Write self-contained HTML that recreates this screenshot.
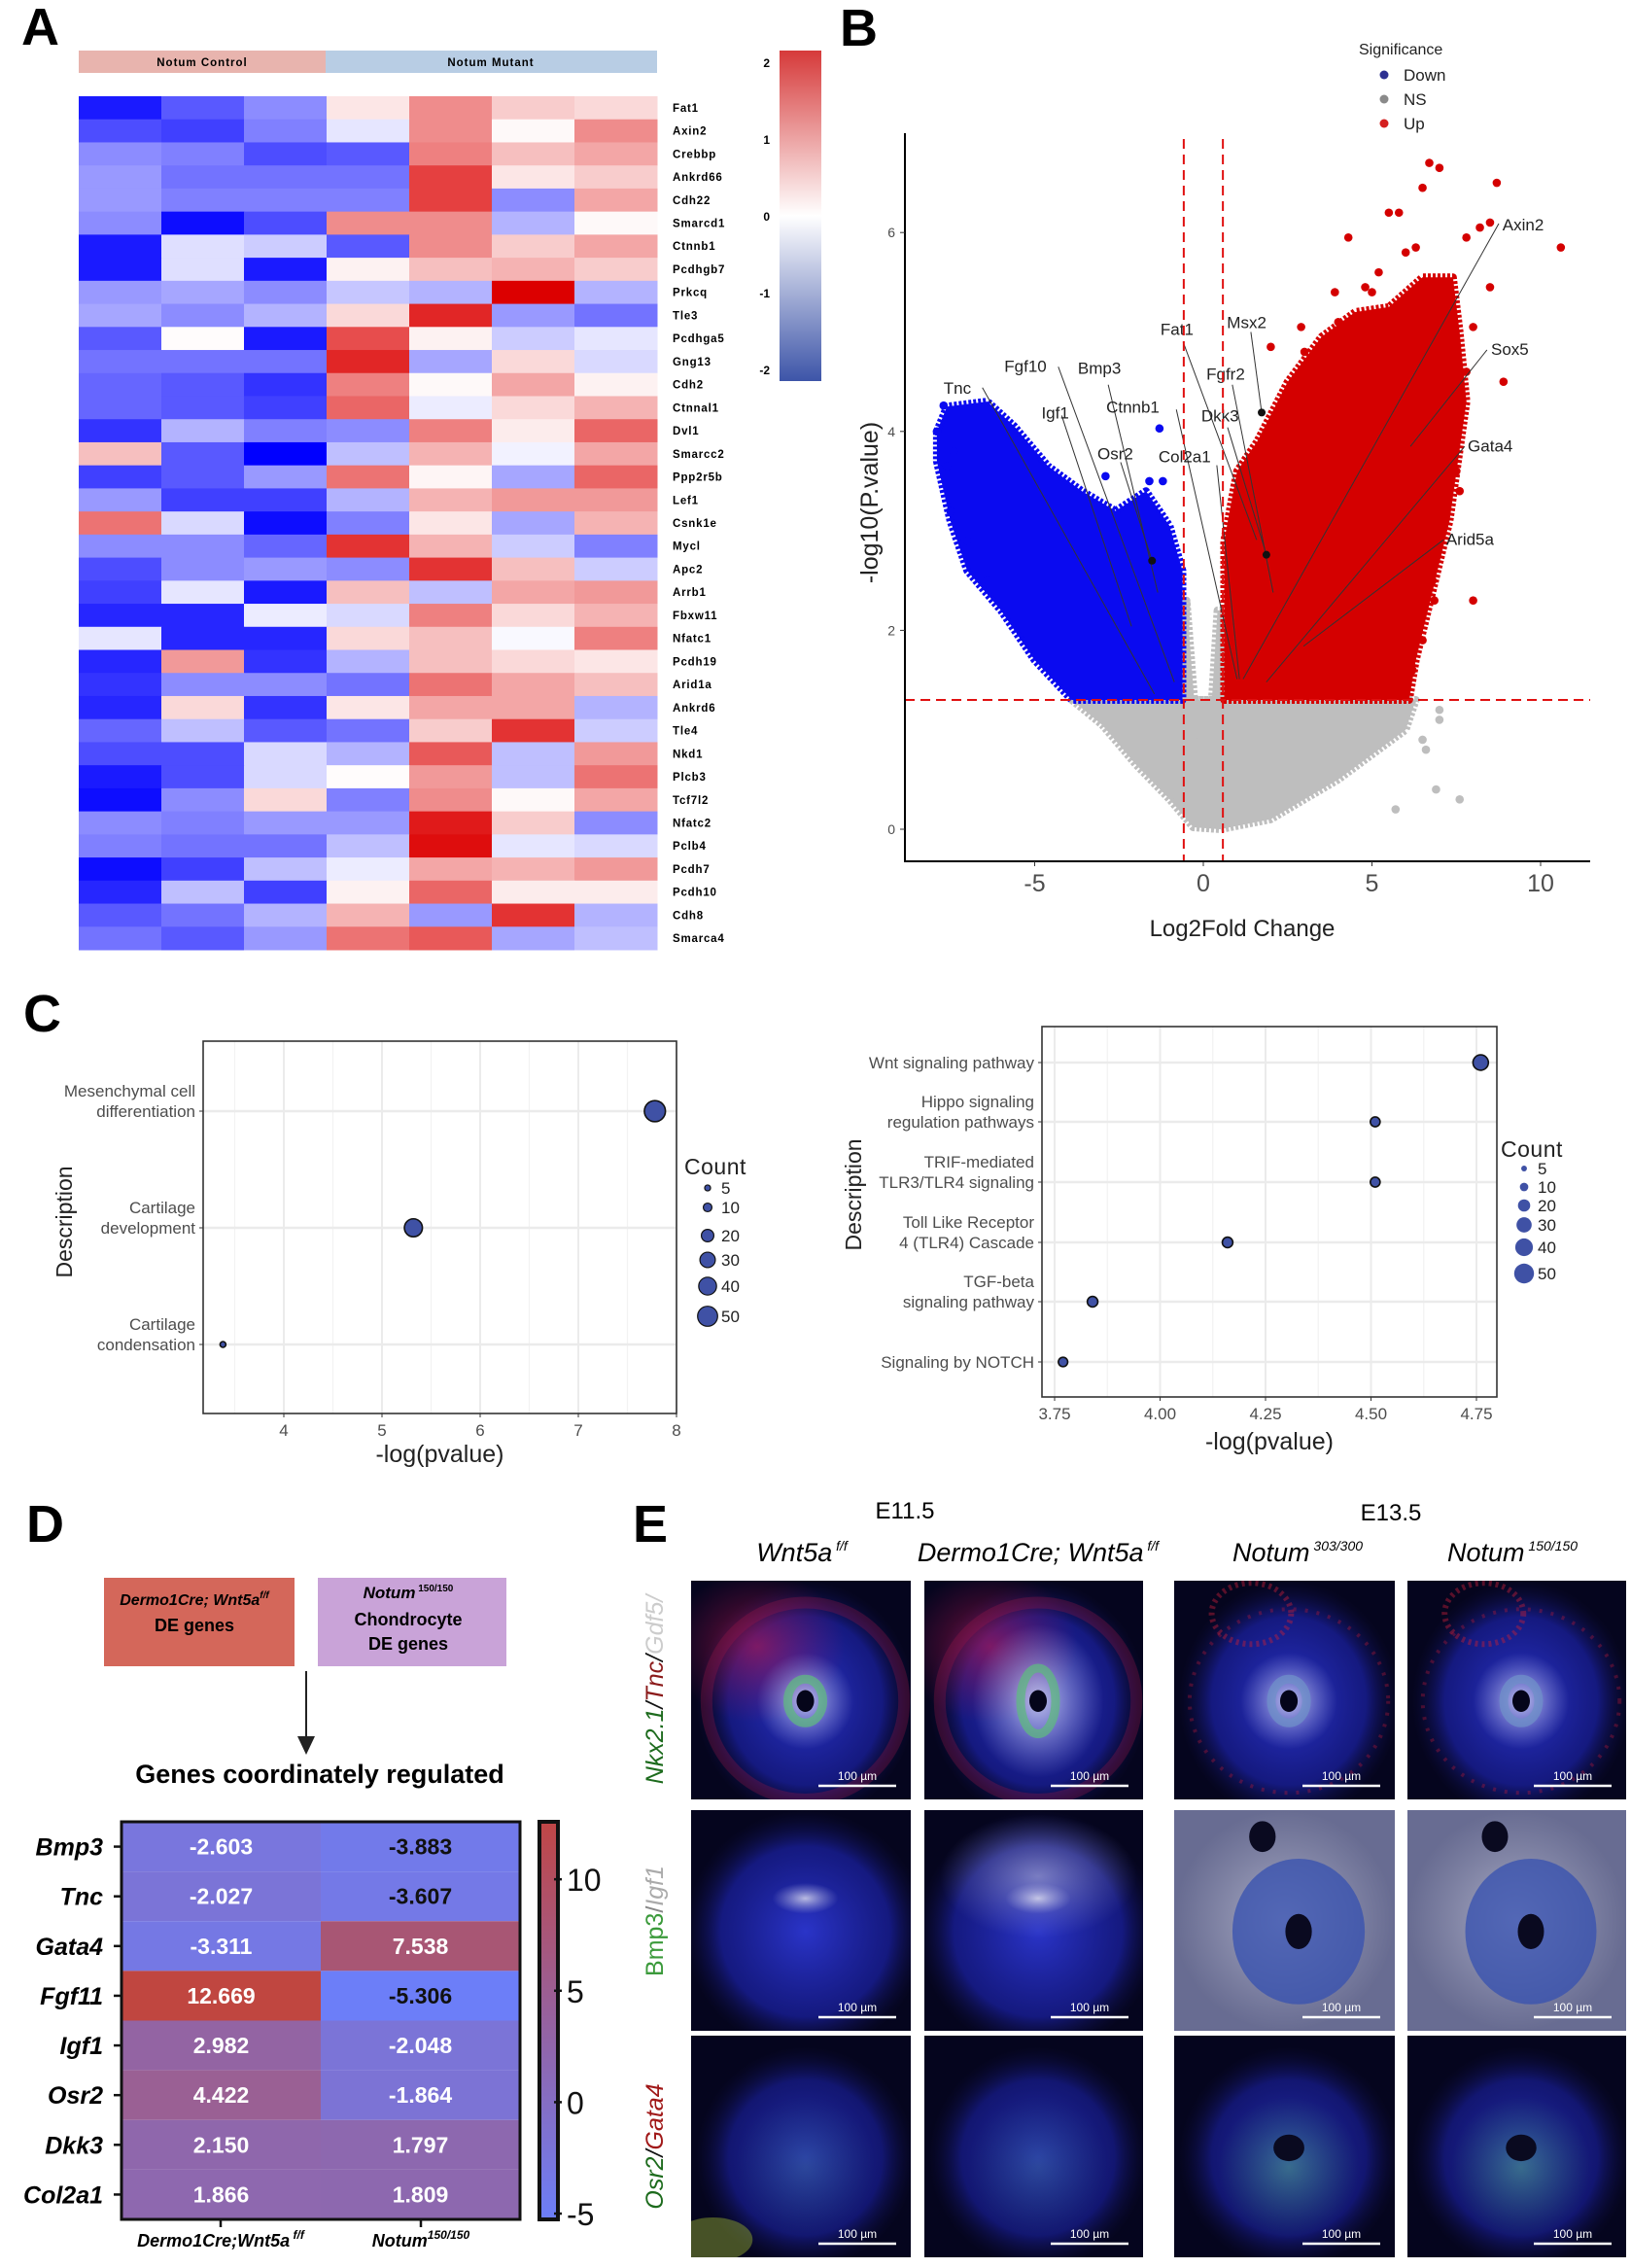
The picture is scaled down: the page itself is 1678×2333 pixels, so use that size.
<!DOCTYPE html>
<html><head><meta charset="utf-8"><style>
html,body{margin:0;padding:0;background:#fff;}
svg{display:block;}
text{font-family:"Liberation Sans",sans-serif;}
</style></head><body>
<svg id="fig" xmlns="http://www.w3.org/2000/svg" width="1678" height="2333" viewBox="0 0 1678 2333">
<defs>
<linearGradient id="cbA" x1="0" y1="0" x2="0" y2="1"><stop offset="0" stop-color="#d63a3a"/><stop offset="0.5" stop-color="#ffffff"/><stop offset="1" stop-color="#3d55a8"/></linearGradient>
<linearGradient id="cbD" x1="0" y1="0" x2="0" y2="1"><stop offset="0" stop-color="#c04646"/><stop offset="1" stop-color="#6c7ef8"/></linearGradient>
<radialGradient id="gBlue"><stop offset="0" stop-color="#2a34c8" stop-opacity="1"/><stop offset="0.7" stop-color="#1a20a0" stop-opacity="0.75"/><stop offset="1" stop-color="#10104a" stop-opacity="0"/></radialGradient>
<radialGradient id="gRed"><stop offset="0" stop-color="#c01850" stop-opacity="0.6"/><stop offset="1" stop-color="#a01050" stop-opacity="0"/></radialGradient>
<radialGradient id="gWhite"><stop offset="0" stop-color="#e0e0f0" stop-opacity="0.8"/><stop offset="1" stop-color="#b0b0e0" stop-opacity="0"/></radialGradient>
<radialGradient id="gGreen"><stop offset="0" stop-color="#60e060" stop-opacity="0.45"/><stop offset="1" stop-color="#40c040" stop-opacity="0"/></radialGradient>
<radialGradient id="gGrey"><stop offset="0" stop-color="#b8bad0" stop-opacity="0.9"/><stop offset="1" stop-color="#7a7ea0" stop-opacity="0.7"/></radialGradient>
</defs>

<text x="22" y="46" font-size="54" font-weight="bold">A</text>
<text x="864" y="47" font-size="54" font-weight="bold">B</text>
<text x="24" y="1061" font-size="54" font-weight="bold">C</text>
<text x="27" y="1586" font-size="54" font-weight="bold">D</text>
<text x="651" y="1586" font-size="54" font-weight="bold">E</text>

<g>
<rect x="81" y="52" width="254" height="23" fill="#e8b4ae"/>
<rect x="335" y="52" width="341" height="23" fill="#b8cde4"/>
<text x="208" y="68" font-size="11.5" font-weight="bold" text-anchor="middle" letter-spacing="1">Notum Control</text>
<text x="505" y="68" font-size="11.5" font-weight="bold" text-anchor="middle" letter-spacing="1">Notum Mutant</text>
<g id="heatA"></g>
<rect x="802" y="52" width="43" height="340" fill="url(#cbA)"/>
<g id="cbAticks" font-size="12" font-weight="bold"></g>
</g>

<g id="volcano"></g>

<g id="dotLeft"></g>
<g id="dotRight"></g>

<g>
<rect x="107" y="1623" width="196" height="91" fill="#d4675a"/>
<rect x="327" y="1623" width="194" height="91" fill="#c9a3d8"/>
<text x="200" y="1651" font-size="16" font-weight="bold" font-style="italic" text-anchor="middle">Dermo1Cre; Wnt5a<tspan font-size="10" dy="-7">f/f</tspan></text>
<text x="200" y="1678" font-size="18" font-weight="bold" text-anchor="middle">DE genes</text>
<text x="420" y="1644" font-size="17" font-weight="bold" text-anchor="middle"><tspan font-style="italic">Notum</tspan><tspan font-size="10" dy="-7"> 150/150</tspan></text>
<text x="420" y="1672" font-size="18" font-weight="bold" text-anchor="middle">Chondrocyte</text>
<text x="420" y="1697" font-size="18" font-weight="bold" text-anchor="middle">DE genes</text>
<line x1="315" y1="1719" x2="315" y2="1795" stroke="#222" stroke-width="2"/>
<polygon points="306,1786 324,1786 315,1805" fill="#222"/>
<text x="329" y="1834" font-size="27" font-weight="bold" text-anchor="middle">Genes coordinately regulated</text>
<g id="heatD"></g>
</g>

<g>
<text x="931" y="1562" font-size="24" text-anchor="middle">E11.5</text>
<text x="1431" y="1564" font-size="24" text-anchor="middle">E13.5</text>
<text x="825" y="1606" font-size="27" font-style="italic" text-anchor="middle">Wnt5a<tspan font-size="14" dy="-11"> f/f</tspan></text>
<text x="1068" y="1606" font-size="27" font-style="italic" text-anchor="middle">Dermo1Cre; Wnt5a<tspan font-size="14" dy="-11"> f/f</tspan></text>
<text x="1335" y="1606" font-size="27" font-style="italic" text-anchor="middle">Notum<tspan font-size="14" dy="-11"> 303/300</tspan></text>
<text x="1556" y="1606" font-size="27" font-style="italic" text-anchor="middle">Notum<tspan font-size="14" dy="-11"> 150/150</tspan></text>
<text transform="translate(682,1738) rotate(-90)" font-size="25" font-style="italic" text-anchor="middle"><tspan fill="#1d6b1d">Nkx2.1</tspan><tspan fill="#111">/</tspan><tspan fill="#8b1a1a">Tnc</tspan><tspan fill="#111">/</tspan><tspan fill="#ccc">Gdf5</tspan><tspan fill="#ccc">/</tspan></text>
<text transform="translate(682,1976) rotate(-90)" font-size="25" text-anchor="middle"><tspan fill="#3b9a3b">Bmp3</tspan><tspan fill="#888">/</tspan><tspan fill="#aaa" font-style="italic">Igf1</tspan></text>
<text transform="translate(682,2208) rotate(-90)" font-size="25" font-style="italic" text-anchor="middle"><tspan fill="#1d6b1d">Osr2</tspan><tspan fill="#111">/</tspan><tspan fill="#a01818">Gata4</tspan></text>
<g id="micro"></g>
</g>
</svg>

<script>
const NS = 'http://www.w3.org/2000/svg';
function mk(tag, attrs, parent){ const e=document.createElementNS(NS,tag); for(const k in attrs) e.setAttribute(k,attrs[k]); parent.appendChild(e); return e; }

/* ================= Panel A heatmap ================= */
const geneNames = ['Fat1','Axin2','Crebbp','Ankrd66','Cdh22','Smarcd1','Ctnnb1','Pcdhgb7','Prkcq','Tle3','Pcdhga5','Gng13','Cdh2','Ctnnal1','Dvl1','Smarcc2','Ppp2r5b','Lef1','Csnk1e','Mycl','Apc2','Arrb1','Fbxw11','Nfatc1','Pcdh19','Arid1a','Ankrd6','Tle4','Nkd1','Plcb3','Tcf7l2','Nfatc2','Pclb4','Pcdh7','Pcdh10','Cdh8','Smarca4'];
const heatValues = [
[-1.8,-1.3,-0.9,0.2,0.9,0.4,0.3],
[-1.4,-1.5,-1.0,-0.2,0.9,0.05,0.9],
[-0.9,-1.0,-1.4,-1.3,1.0,0.5,0.7],
[-0.8,-1.1,-1.1,-1.1,1.5,0.2,0.4],
[-0.8,-1.0,-1.0,-1.0,1.5,-0.9,0.7],
[-0.9,-1.9,-1.4,0.9,0.9,-0.6,0.05],
[-1.8,-0.25,-0.4,-1.3,0.9,0.4,0.7],
[-1.8,-0.25,-1.8,0.1,0.5,0.6,0.4],
[-0.8,-0.7,-0.9,-0.45,-0.6,2.0,-0.6],
[-0.7,-0.9,-0.6,0.3,1.7,-0.8,-1.1],
[-1.3,0.02,-1.8,1.4,0.1,-0.4,-0.2],
[-1.1,-1.1,-1.1,1.7,-0.7,0.3,-0.3],
[-1.2,-1.3,-1.6,1.0,0.05,0.7,0.1],
[-1.2,-1.3,-1.5,1.2,-0.15,0.3,0.6],
[-1.6,-0.6,-1.0,-0.9,1.0,0.15,1.2],
[0.5,-1.3,-2.0,-0.5,0.6,-0.1,0.7],
[-1.5,-1.3,-0.8,1.1,0.08,-0.7,1.2],
[-0.8,-1.5,-1.5,-0.6,0.6,0.8,0.8],
[1.1,-0.3,-1.9,-1.0,0.2,-0.7,0.6],
[-0.9,-0.9,-1.2,1.6,0.6,-0.4,-1.0],
[-1.4,-0.9,-0.8,-0.9,1.6,0.5,-0.4],
[-1.5,-0.2,-1.8,0.5,-0.5,0.7,0.8],
[-1.7,-1.7,-0.15,-0.3,1.0,0.3,0.6],
[-0.2,-1.7,-1.7,0.3,0.5,-0.05,1.0],
[-1.7,0.8,-1.6,-0.6,0.5,0.3,0.2],
[-1.6,-0.9,-0.9,-1.1,1.1,0.7,0.5],
[-1.7,0.3,-1.6,0.2,0.7,0.7,-0.6],
[-1.2,-0.5,-1.3,-1.1,0.4,1.6,-0.4],
[-1.4,-1.4,-0.3,-0.6,1.3,-0.5,0.8],
[-1.8,-1.4,-0.3,0.02,0.8,-0.5,1.1],
[-1.9,-0.9,0.3,-1.0,0.9,0.05,0.7],
[-0.9,-1.0,-0.8,-0.8,1.8,0.4,-0.9],
[-1.0,-1.1,-1.1,-0.5,1.9,-0.2,-0.3],
[-1.9,-1.5,-0.5,-0.15,0.7,0.6,0.8],
[-1.7,-0.5,-1.5,0.1,1.2,0.15,0.15],
[-1.3,-1.1,-0.6,0.6,-0.8,1.6,-0.6],
[-1.1,-1.3,-0.8,1.1,1.3,-0.7,-0.5]];
const colorbarTicksA = [2,1,0,-1,-2];
(function(){
  const g=document.getElementById('heatA');
  const x0=81,x1=676,y0=99,y1=977, nc=7, nr=geneNames.length;
  const cw=(x1-x0)/nc, rh=(y1-y0)/nr;
  function col(v){
    const t=Math.min(1,Math.abs(v)/2);
    if(v<0){ return 'rgb('+Math.round(255-255*t)+','+Math.round(255-255*t)+',255)'; }
    return 'rgb('+Math.round(255-35*t)+','+Math.round(255-255*t)+','+Math.round(255-255*t)+')';
  }
  geneNames.forEach((gn,i)=>{
    heatValues[i].forEach((v,j)=>{
      const r=mk('rect',{x:x0+j*cw,y:y0+i*rh,width:cw+0.5,height:rh+0.5,fill:col(v)},g);
      
      
    });
    const t=mk('text',{x:692,y:y0+(i+0.5)*rh+4,'font-size':11.5,'font-weight':'bold','letter-spacing':'0.8'},g);
    t.textContent=gn;
    
    
  });
  const tg=document.getElementById('cbAticks');
  colorbarTicksA.forEach(v=>{
    const t=mk('text',{x:792,y:223-v*79+4,'text-anchor':'end'},tg);
    t.textContent=v;
    
    
  });
})();

/* ================= Panel B volcano ================= */
const volXTicks = [-5,0,5,10];
const volYTicks = [0,2,4,6];
const blueRegion = [[-7.9,4.0],[-7.6,4.25],[-6.4,4.3],[-5.6,4.05],[-4.6,3.65],[-3.6,3.4],[-2.6,3.2],[-1.7,3.4],[-1.0,3.05],[-0.62,2.6],[-0.62,1.3],[-3.9,1.3],[-5.0,1.7],[-6.0,2.2],[-7.0,2.6],[-7.5,3.1],[-7.9,3.7]];
const redRegion = [[0.62,1.3],[0.62,2.9],[1.0,3.6],[1.6,3.9],[2.5,4.5],[3.5,4.95],[4.5,5.2],[5.5,5.25],[6.5,5.55],[7.4,5.55],[7.6,5.0],[7.8,4.3],[7.3,3.1],[6.8,2.4],[6.3,1.7],[6.1,1.3]];
const greyRegion = [[-3.9,1.3],[-3.0,1.05],[-2.0,0.65],[-1.0,0.3],[-0.3,0.02],[0.5,0.0],[2.0,0.1],[3.0,0.3],[4.0,0.5],[5.0,0.75],[6.0,1.0],[6.3,1.3]];
const greySpike = [[-0.62,1.3],[-0.5,2.3],[-0.2,1.0],[0.0,0.25],[0.2,1.0],[0.42,2.2],[0.62,2.2],[0.62,1.3]];
const upOutliers = [[6.7,6.7],[7.0,6.65],[6.5,6.45],[8.7,6.5],[5.5,6.2],[5.8,6.2],[4.3,5.95],[6.3,5.85],[6.0,5.8],[10.6,5.85],[8.5,6.1],[8.2,6.05],[7.8,5.95],[5.2,5.6],[3.9,5.4],[4.8,5.45],[2.9,5.05],[8.5,5.45],[8.0,5.05],[8.9,4.5],[7.8,4.6],[7.5,3.9],[7.5,3.6],[7.6,3.4],[6.8,2.5],[6.85,2.3],[8.0,2.3],[6.5,1.9],[6.2,1.6],[2.0,4.85],[3.5,4.2],[4.0,5.1],[5.0,5.4],[3.0,4.8]];
const downOutliers = [[-1.3,4.03],[-7.7,4.26],[-7.9,4.0],[-7.4,3.8],[-7.6,3.65],[-7.5,3.2],[-7.0,2.9],[-2.9,3.55],[-1.6,3.5],[-1.2,3.5],[-6.4,2.5]];
const nsOutliers = [[7.0,1.2],[7.0,1.1],[6.5,0.9],[6.6,0.8],[6.9,0.4],[7.6,0.3],[5.7,0.2]];
const labelNames = ['Tnc','Fgf10','Bmp3','Igf1','Ctnnb1','Osr2','Fat1','Msx2','Fgfr2','Dkk3','Col2a1','Axin2','Sox5','Gata4','Arid5a'];
const labelTextX = [-7.7,-5.9,-3.72,-4.8,-2.88,-3.14,-1.27,0.7,0.09,-0.06,-1.33,8.87,8.53,7.84,7.2];
const labelTextY = [4.38,4.6,4.58,4.13,4.19,3.72,4.97,5.04,4.52,4.1,3.69,6.02,4.77,3.8,2.86];
const leaderFromX = [-6.55,-4.3,-2.82,-4.2,-0.8,-2.45,-0.6,1.41,0.86,0.72,0.4,8.76,8.41,7.75,7.12];
const leaderFromY = [4.44,4.65,4.47,4.16,4.22,3.69,4.9,5.0,4.47,4.04,3.66,6.09,4.82,3.85,2.91];
const geneX = [-1.45,-0.86,-1.35,-2.13,1.0,-1.52,1.58,1.73,2.07,1.87,1.07,1.18,6.14,1.87,2.97];
const geneY = [1.36,1.48,2.38,2.04,1.51,2.7,2.91,4.19,2.38,2.76,1.51,1.51,3.85,1.48,1.84];
const pThreshold = 1.3, fcThreshold = 0.58;
(function(){
  const g=document.getElementById('volcano');
  const px=v=>1238+34.7*v, py=v=>853-102.3*v;
  const L=931,R=1636,T=137,B=886;
  function region(pts,color,name){
    const d='M'+pts.map(p=>px(p[0]).toFixed(1)+','+py(p[1]).toFixed(1)).join('L')+'Z';
    const e=mk('path',{d:d,fill:color,stroke:color,'stroke-width':8,'stroke-linejoin':'round','stroke-dasharray':'3,2'},g);
    
    
  }
  region(greyRegion,'#bebebe','ns-point-cloud');
  region(greySpike,'#bebebe','ns-point-spike');
  region(blueRegion,'#0a0af0','down-point-cloud');
  region(redRegion,'#d40000','up-point-cloud');
  function pts(arr,color,name){
    arr.forEach(p=>{
      const c=mk('circle',{cx:px(p[0]),cy:py(p[1]),r:4.3,fill:color},g);
      
      
    });
  }
  pts(nsOutliers,'#bebebe','ns-point');
  pts(downOutliers,'#0a0af0','down-point');
  pts(upOutliers,'#d40000','up-point');
  labelNames.forEach((n,i)=>{
    const l=mk('line',{x1:px(leaderFromX[i]),y1:py(leaderFromY[i]),x2:px(geneX[i]),y2:py(geneY[i]),stroke:'#333','stroke-width':1},g);
    
    
    if(['Osr2','Msx2','Dkk3'].includes(n)){
      const d=mk('circle',{cx:px(geneX[i]),cy:py(geneY[i]),r:4,fill:'#111'},g);
      
      
    }
    const t=mk('text',{x:px(labelTextX[i]),y:py(labelTextY[i]),'font-size':17,fill:'#222'},g);
    t.textContent=n;
    
    
  });
  const h=mk('line',{x1:L,x2:R,y1:py(pThreshold),y2:py(pThreshold),stroke:'#e01010','stroke-width':2,'stroke-dasharray':'10,6'},g);
  
  
  [-fcThreshold,fcThreshold].forEach(v=>{
    const vl=mk('line',{x1:px(v),x2:px(v),y1:143,y2:B,stroke:'#e01010','stroke-width':2,'stroke-dasharray':'10,6'},g);
    
    
  });
  const ax=mk('path',{d:`M${L},${T}V${B}H${R}`,fill:'none',stroke:'#000','stroke-width':2},g);
  
  
  volYTicks.forEach(v=>{
    const tk=mk('line',{x1:L-5,x2:L,y1:py(v),y2:py(v),stroke:'#333'},g);
    
    
    const t=mk('text',{x:L-10,y:py(v)+5,'font-size':14,fill:'#4d4d4d','text-anchor':'end'},g);
    t.textContent=v;
    
    
  });
  volXTicks.forEach(v=>{
    const tk=mk('line',{x1:px(v),x2:px(v),y1:B,y2:B+5,stroke:'#333'},g);
    
    
    const t=mk('text',{x:px(v),y:917,'font-size':25,fill:'#4d4d4d','text-anchor':'middle'},g);
    t.textContent=v;
    
    
  });
  const xt=mk('text',{x:1278,y:963,'font-size':24,'text-anchor':'middle',fill:'#222'},g);
  xt.textContent='Log2Fold Change';
  
  
  const yt=mk('text',{transform:'translate(903,517) rotate(-90)','font-size':25,'text-anchor':'middle',fill:'#222'},g);
  yt.textContent='-log10(P.value)';
  
  
  const lt=mk('text',{x:1398,y:56,'font-size':16,fill:'#222'},g);
  lt.textContent='Significance';
  
  
  [['Down','#2e3192',77],['NS','#8a8a8a',102],['Up','#d42020',127]].forEach(e=>{
    const c=mk('circle',{cx:1424,cy:e[2],r:4.5,fill:e[1]},g);
    
    
    const t=mk('text',{x:1444,y:e[2]+6,'font-size':17,fill:'#222'},g);
    t.textContent=e[0];
    
    
  });
})();

/* ================= Panel C dot plots ================= */
const leftTerms = [['Mesenchymal cell','differentiation'],['Cartilage','development'],['Cartilage','condensation']];
const leftPvals = [7.78,5.32,3.38];
const leftCounts = [52,38,4];
const leftTicks = [4,5,6,7,8];
const rightTerms = [['Wnt signaling pathway'],['Hippo signaling','regulation pathways'],['TRIF-mediated','TLR3/TLR4 signaling'],['Toll Like Receptor','4 (TLR4) Cascade'],['TGF-beta','signaling pathway'],['Signaling by NOTCH']];
const rightPvals = [4.76,4.51,4.51,4.16,3.84,3.77];
const rightCounts = [30,12,12,14,14,11];
const rightTicks = [3.75,4.00,4.25,4.50,4.75];
const legendCounts = [5,10,20,30,40,50];
function dotPlot(cfg){
  const g=document.getElementById(cfg.id);
  const sx=v=>cfg.x0+(v-cfg.v0)*cfg.k;
  const bg=mk('rect',{x:cfg.L,y:cfg.T,width:cfg.R-cfg.L,height:cfg.B-cfg.T,fill:'#fff'},g);
  
  
  cfg.minor.forEach(v=>{
    const l=mk('line',{x1:sx(v),x2:sx(v),y1:cfg.T,y2:cfg.B,stroke:'#f2f2f2','stroke-width':1.2},g);
    
    
  });
  cfg.ticks.forEach(v=>{
    const l=mk('line',{x1:sx(v),x2:sx(v),y1:cfg.T,y2:cfg.B,stroke:'#ebebeb','stroke-width':2},g);
    
    
    const tk=mk('line',{x1:sx(v),x2:sx(v),y1:cfg.B,y2:cfg.B+4,stroke:'#333'},g);
    
    
    const t=mk('text',{x:sx(v),y:cfg.B+23,'font-size':17,fill:'#4d4d4d','text-anchor':'middle'},g);
    t.textContent=cfg.fmt(v);
    
    
  });
  cfg.terms.forEach((term,i)=>{
    const y=cfg.rows[i];
    const l=mk('line',{x1:cfg.L,x2:cfg.R,y1:y,y2:y,stroke:'#ebebeb','stroke-width':2.5},g);
    
    
    term.forEach((ln,k)=>{
      const t=mk('text',{x:cfg.L-8,y:y+6-(term.length-1-k)*21,'font-size':17,fill:'#4d4d4d','text-anchor':'end'},g);
      t.textContent=ln;
      
      
    });
    const tk=mk('line',{x1:cfg.L-4,x2:cfg.L,y1:y,y2:y,stroke:'#333'},g);
    
    
    const c=mk('circle',{cx:sx(cfg.pvals[i]),cy:y,r:cfg.rad(cfg.counts[i]),fill:'#3f51a5',stroke:'#111','stroke-width':1.6},g);
    
    
  });
  const bx=mk('rect',{x:cfg.L,y:cfg.T,width:cfg.R-cfg.L,height:cfg.B-cfg.T,fill:'none',stroke:'#333','stroke-width':1.6},g);
  
  
  const xt=mk('text',{x:(cfg.L+cfg.R)/2,y:cfg.titleY,'font-size':25,'text-anchor':'middle',fill:'#222'},g);
  xt.textContent='-log(pvalue)';
  
  
  const yt=mk('text',{transform:`translate(${cfg.descX},${cfg.descY}) rotate(-90)`,'font-size':23,'text-anchor':'middle',fill:'#222'},g);
  yt.textContent='Description';
  
  
  const ct=mk('text',{x:cfg.legX,y:cfg.legT,'font-size':23,fill:'#222','letter-spacing':'0.5'},g);
  ct.textContent='Count';
  
  
  legendCounts.forEach((n,i)=>{
    const y=cfg.legY[i];
    const c=mk('circle',{cx:cfg.legX+24,cy:y,r:cfg.legR(n),fill:'#3f51a5',stroke:cfg.legStroke,'stroke-width':1.2},g);
    
    
    const t=mk('text',{x:cfg.legX+38,y:y+6,'font-size':17,fill:'#222'},g);
    t.textContent=n;
    
    
  });
}
dotPlot({id:'dotLeft',L:209,R:696,T:1071,B:1454,x0:292,v0:4,k:101,ticks:leftTicks,minor:[3.5,4.5,5.5,6.5,7.5],fmt:v=>v,
  terms:leftTerms,pvals:leftPvals,counts:leftCounts,rows:[1143,1263,1383],rad:c=>Math.max(2.5,1.5*Math.sqrt(c)),
  titleY:1504,descX:74,descY:1257,legX:704,legT:1208,legY:[1222,1242,1271,1296,1323,1354],legR:n=>Math.max(1.8,1.5*Math.sqrt(n)-0.3),legStroke:'#111'});
dotPlot({id:'dotRight',L:1072,R:1540,T:1056,B:1437,x0:1085,v0:3.75,k:434,ticks:rightTicks,minor:[3.875,4.125,4.375,4.625],fmt:v=>v.toFixed(2),
  terms:rightTerms,pvals:rightPvals,counts:rightCounts,rows:[1093,1154,1216,1278,1339,1401],rad:c=>1.45*Math.sqrt(c),
  titleY:1491,descX:886,descY:1229,legX:1544,legT:1190,legY:[1202,1221,1240,1260,1283,1310],legR:n=>1.5*Math.sqrt(n)-0.4,legStroke:'none'});

/* ================= Panel D heatmap ================= */
const dGenes = ['Bmp3','Tnc','Gata4','Fgf11','Igf1','Osr2','Dkk3','Col2a1'];
const dDermo = [-2.603,-2.027,-3.311,12.669,2.982,4.422,2.150,1.866];
const dNotum = [-3.883,-3.607,7.538,-5.306,-2.048,-1.864,1.797,1.809];
const dColTicks = [10,5,0,-5];
(function(){
  const g=document.getElementById('heatD');
  const x0=125,x1=535,xm=330,y0=1874,y1=2283,rh=(y1-y0)/dGenes.length;
  const vmin=-5.26,vmax=12.58;
  const cy=v=>y1-(v-vmin)/(vmax-vmin)*(y1-y0);
  function col(v){
    const t=Math.max(0,Math.min(1,(v-vmin)/(vmax-vmin)));
    const a=[108,126,248],b=[192,70,64];
    return 'rgb('+a.map((c,i)=>Math.round(c+(b[i]-c)*t)).join(',')+')';
  }
  dGenes.forEach((gn,i)=>{
    [[dDermo[i],x0,xm,'dermo1cre'],[dNotum[i],xm,x1,'notum']].forEach(c=>{
      const r=mk('rect',{x:c[1],y:y0+i*rh,width:c[2]-c[1],height:rh,fill:col(c[0])},g);
      
      
      const t=mk('text',{x:(c[1]+c[2])/2,y:y0+(i+0.5)*rh+8,'font-size':23,'font-weight':'bold','text-anchor':'middle',fill:c[0]<-3.5?'#111':'#fff'},g);
      t.textContent=c[0].toFixed(3);
      
      
    });
    const t=mk('text',{x:106,y:y0+(i+0.5)*rh+9,'font-size':25,'font-weight':'bold','font-style':'italic','text-anchor':'end'},g);
    t.textContent=gn;
    
    
    const tk=mk('line',{x1:117,x2:125,y1:y0+(i+0.5)*rh,y2:y0+(i+0.5)*rh,stroke:'#111','stroke-width':2.5},g);
    
    
  });
  const bd=mk('rect',{x:x0,y:y0,width:x1-x0,height:y1-y0,fill:'none',stroke:'#111','stroke-width':3},g);
  
  
  [[227,'Dermo1Cre;Wnt5a',' f/f','column-label-dermo1cre'],[433,'Notum','150/150','column-label-notum']].forEach(c=>{
    const tk=mk('line',{x1:c[0],x2:c[0],y1:y1,y2:y1+8,stroke:'#111','stroke-width':2.5},g);
    
    
    const t=mk('text',{x:c[0],y:2311,'font-size':18,'font-weight':'bold','font-style':'italic','text-anchor':'middle'},g);
    t.innerHTML=c[1]+'<tspan font-size="12" dy="-8">'+c[2]+'</tspan>';
    
    
  });
  const cb=mk('rect',{x:555,y:y0,width:19,height:y1-y0,fill:'url(#cbD)',stroke:'#111','stroke-width':4},g);
  
  
  dColTicks.forEach(v=>{
    const tk=mk('line',{x1:570,x2:578,y1:cy(v),y2:cy(v),stroke:'#111','stroke-width':2.5},g);
    
    
    const t=mk('text',{x:583,y:cy(v)+12,'font-size':32,fill:'#111'},g);
    t.textContent=v;
    
    
  });
})();

/* ================= Panel E micrographs (illustrative) ================= */
(function(){
  const g=document.getElementById('micro');
  const cols=[[711,937],[951,1176],[1208,1435],[1448,1673]];
  const rows=[[1626,1851],[1862,2089],[2094,2322]];
  rows.forEach((r,ri)=>cols.forEach((c,ci)=>{
    const x=c[0],y=r[0],w=c[1]-c[0],h=r[1]-r[0];
    const cid='clip'+ri+ci;
    const cp=mk('clipPath',{id:cid},g); mk('rect',{x:x,y:y,width:w,height:h},cp);
    const pg=mk('g',{'clip-path':'url(#'+cid+')'},g);
    
    
    const late=ci>=2;
    const cx=x+w*0.52, cy=y+h*0.55;
    mk('rect',{x:x,y:y,width:w,height:h,fill:(ri==1&&late)?'#3e4270':'#05051e'},pg);
    if(ri==0){
      mk('ellipse',{cx:cx,cy:cy,rx:w*0.5,ry:h*0.55,fill:'url(#gBlue)'},pg);
      if(ci<2){
        mk('ellipse',{cx:x+w*0.3,cy:y+h*0.3,rx:w*0.4,ry:h*0.35,fill:'url(#gRed)'},pg);
        mk('ellipse',{cx:cx,cy:cy,rx:w*0.45,ry:h*0.45,fill:'none',stroke:'#a01848','stroke-width':12,'stroke-opacity':0.3},pg);
      } else {
        mk('ellipse',{cx:x+w*0.35,cy:y+h*0.15,rx:w*0.18,ry:h*0.14,fill:'none',stroke:'#c0203a','stroke-width':6,'stroke-opacity':0.45,'stroke-dasharray':'3,4'},pg);
        mk('ellipse',{cx:cx,cy:cy,rx:w*0.45,ry:h*0.42,fill:'none',stroke:'#c01a3a','stroke-width':4,'stroke-opacity':0.35,'stroke-dasharray':'3,9'},pg);
      }
      mk('ellipse',{cx:cx,cy:cy,rx:w*(ci==1?0.3:0.22),ry:h*(ci==1?0.35:0.22),fill:'url(#gWhite)'},pg);
      mk('ellipse',{cx:cx,cy:cy,rx:w*0.08,ry:h*(ci==1?0.15:0.1),fill:'none',stroke:late?'#6f90c8':'#5fb880','stroke-width':9,'stroke-opacity':0.75},pg);
      mk('ellipse',{cx:cx,cy:cy,rx:w*0.04,ry:h*0.05,fill:'#05051a'},pg);
    } else if(ri==1){
      if(late){
        mk('rect',{x:x,y:y,width:w,height:h,fill:'url(#gGrey)'},pg);
        mk('ellipse',{cx:cx+10,cy:cy,rx:w*0.3,ry:h*0.33,fill:'#3550b0','fill-opacity':0.75},pg);
        mk('ellipse',{cx:cx+10,cy:cy,rx:w*0.06,ry:h*0.08,fill:'#0a0a20'},pg);
        mk('ellipse',{cx:x+w*0.4,cy:y+h*0.12,rx:w*0.06,ry:h*0.07,fill:'#0a0a20'},pg);
      } else {
        mk('ellipse',{cx:cx,cy:cy,rx:w*0.55,ry:h*0.55,fill:'url(#gBlue)'},pg);
        if(ci==1) mk('ellipse',{cx:cx,cy:y+h*0.3,rx:w*0.45,ry:h*0.28,fill:'url(#gWhite)','opacity':0.6},pg);
        mk('ellipse',{cx:cx,cy:y+h*0.4,rx:w*0.15,ry:h*0.07,fill:'url(#gWhite)'},pg);
      }
    } else {
      mk('ellipse',{cx:cx,cy:cy,rx:w*0.5,ry:h*0.5,fill:'url(#gBlue)','opacity':0.85},pg);
      mk('ellipse',{cx:cx,cy:cy+10,rx:w*0.32,ry:h*0.32,fill:'url(#gGreen)','opacity':late?0.8:0.35},pg);
      if(late) mk('ellipse',{cx:cx,cy:cy-10,rx:w*0.07,ry:h*0.06,fill:'#0a0a20'},pg);
      if(ci==0) mk('ellipse',{cx:x+w*0.1,cy:y+h*0.92,rx:w*0.18,ry:h*0.1,fill:'#8aa030','fill-opacity':0.5},pg);
    }
    const sb=mk('line',{x1:x+w-95,x2:x+w-15,y1:y+h-14,y2:y+h-14,stroke:'#fff','stroke-width':2.5},g);
    
    
    const st=mk('text',{x:x+w-55,y:y+h-20,'font-size':12,fill:'#fff','text-anchor':'middle'},g);
    st.textContent='100 µm';
    
    
  }));
})();
</script>
</body></html>
